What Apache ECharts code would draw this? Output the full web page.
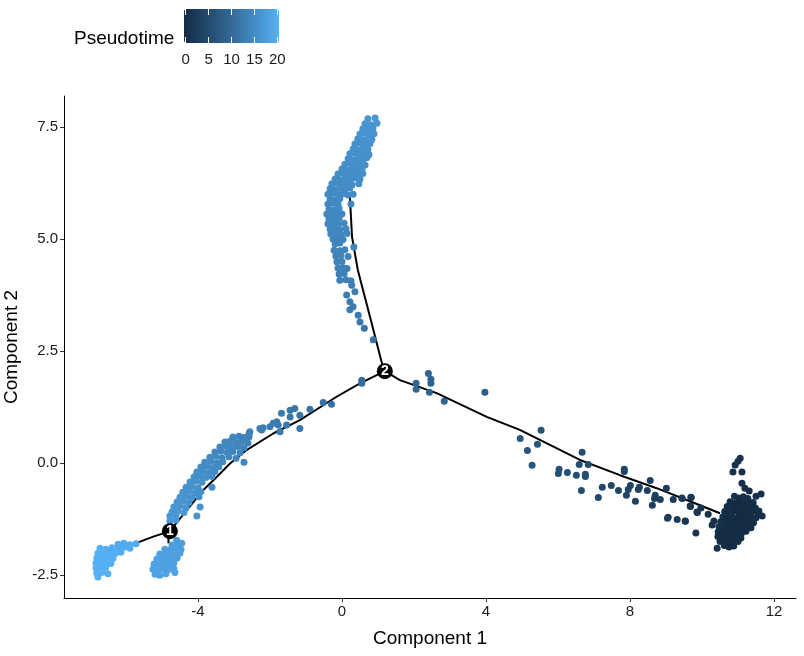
<!DOCTYPE html>
<html>
<head>
<meta charset="utf-8">
<script src="https://cdn.jsdelivr.net/npm/echarts@6/dist/echarts.min.js"></script>
<style>
  html, body { margin: 0; padding: 0; background: #fff; }
  #chart { width: 804px; height: 656px; }
</style>
</head>
<body>
<div id="chart"></div>
<script>
// cells as [component1, component2, pseudotime]
var rightBlob = [
  [10.90,-0.74,0.9],[11.02,-0.78,0.7],[11.15,-0.75,0.8],[11.27,-0.79,0.6],
  [10.78,-0.86,0.5],[10.92,-0.89,0.3],[11.05,-0.85,0.4],[11.18,-0.90,0.2],[11.30,-0.86,0.5],[11.42,-0.88,0.7],
  [10.70,-0.97,0.4],[10.83,-1.00,0.2],[10.96,-0.96,0.1],[11.09,-0.99,0.3],[11.22,-1.01,0.2],[11.35,-0.97,0.4],[11.48,-1.00,0.6],
  [10.63,-1.08,0.5],[10.76,-1.11,0.3],[10.89,-1.07,0.1],[11.02,-1.10,0.0],[11.15,-1.08,0.2],[11.28,-1.11,0.1],[11.41,-1.07,0.3],[11.55,-1.10,0.5],
  [10.58,-1.20,0.6],[10.71,-1.22,0.4],[10.84,-1.19,0.2],[10.97,-1.23,0.1],[11.10,-1.20,0.0],[11.23,-1.22,0.2],[11.36,-1.19,0.3],[11.50,-1.22,0.4],
  [10.52,-1.31,0.7],[10.65,-1.34,0.5],[10.78,-1.30,0.3],[10.91,-1.33,0.1],[11.04,-1.31,0.2],[11.17,-1.34,0.1],[11.30,-1.30,0.3],[11.43,-1.33,0.4],
  [10.47,-1.42,0.8],[10.60,-1.45,0.6],[10.73,-1.41,0.4],[10.86,-1.44,0.2],[10.99,-1.42,0.1],[11.12,-1.45,0.3],[11.25,-1.41,0.2],[11.36,-1.44,0.4],
  [10.45,-1.53,0.7],[10.58,-1.56,0.5],[10.71,-1.52,0.4],[10.84,-1.55,0.3],[10.97,-1.53,0.2],[11.10,-1.56,0.3],[11.22,-1.52,0.4],
  [10.44,-1.64,0.6],[10.57,-1.67,0.5],[10.70,-1.63,0.4],[10.83,-1.66,0.3],[10.96,-1.64,0.2],[11.08,-1.67,0.4],
  [10.50,-1.75,0.5],[10.63,-1.78,0.4],[10.76,-1.74,0.3],[10.89,-1.77,0.4],[11.00,-1.75,0.5],
  [10.62,-1.84,0.6],[10.75,-1.87,0.5],[10.88,-1.85,0.4]
];
var rightOuter = [
  [11.06,0.11,1.2],[10.92,-0.04,1.1],[10.86,-0.20,1.0],[11.11,-0.20,1.1],[11.00,0.04,1.2],
  [11.11,-0.45,0.9],[11.19,-0.56,0.8],[11.31,-0.62,0.7],[11.50,-0.74,0.9],[11.64,-0.69,1.0],
  [11.67,-1.18,0.8],[11.58,-1.07,0.7],[10.42,-1.90,0.9],
  [9.44,-0.78,1.8],[9.69,-0.76,1.6],[9.67,-0.96,1.5],[9.86,-1.09,1.4],[9.97,-1.00,1.3],
  [10.17,-1.14,1.2],[9.53,-1.29,1.7],[9.83,-1.56,1.5],[10.28,-1.38,1.1],[10.33,-1.29,1.0]
];
var rightArm = [
  [2.40,2.00,9.2],[2.06,1.78,9.4],[2.47,1.87,9.1],[2.47,1.78,9.1],[2.06,1.65,9.3],[2.43,1.58,9.0],
  [2.84,1.38,8.7],[3.97,1.58,8.0],[5.53,0.73,6.6],[4.95,0.55,7.0],[5.43,0.42,6.7],[5.15,0.28,6.9],
  [5.28,-0.05,6.8],[6.03,-0.14,6.0],[6.01,-0.23,6.0],[6.26,-0.21,5.8],[6.51,-0.27,5.5],[6.76,-0.25,5.3],
  [6.76,-0.30,5.3],[6.67,0.24,5.5],[6.59,-0.03,5.5],[6.84,-0.03,5.2],[6.65,-0.61,5.4],[7.12,-0.77,4.9],
  [7.23,-0.54,4.8],[7.48,-0.50,4.5],[7.68,-0.61,4.3],[7.84,-0.14,4.2],[7.84,-0.19,4.2],[7.90,-0.72,4.1],
  [7.95,-0.59,4.0],[8.01,-0.50,4.0],[8.15,-0.85,3.8],[8.23,-0.59,3.7],[8.26,-0.54,3.7],[8.48,-0.61,3.4],
  [8.56,-0.39,3.3],[8.62,-0.94,3.3],[8.68,-0.79,3.2],[8.70,-0.72,3.2],[8.84,-0.81,3.0],[9.01,-0.56,2.8],
  [9.04,-1.23,2.8],[9.06,-1.21,2.8],[9.20,-0.81,2.6],[9.31,-1.26,2.5],[9.45,-0.79,2.3],[9.54,-1.30,2.2],
  [9.70,-0.77,2.0],[9.68,-0.97,2.0],[9.87,-1.10,1.8]
];
var upperBranch = [
  [0.72,7.68,16.2],[0.92,7.70,16.3],
  [0.64,7.57,16.0],[0.81,7.55,16.1],[0.97,7.58,16.2],
  [0.58,7.46,15.9],[0.72,7.44,16.0],[0.86,7.47,16.0],
  [0.50,7.34,15.8],[0.64,7.36,15.9],[0.78,7.33,15.9],[0.89,7.35,16.0],
  [0.44,7.23,15.7],[0.58,7.21,15.8],[0.72,7.24,15.8],[0.83,7.22,15.9],
  [0.36,7.12,15.6],[0.50,7.14,15.6],[0.64,7.11,15.7],[0.78,7.13,15.8],
  [0.31,7.01,15.5],[0.44,6.99,15.5],[0.58,7.02,15.6],[0.72,7.00,15.7],
  [0.22,6.90,15.4],[0.36,6.92,15.4],[0.50,6.89,15.5],[0.64,6.91,15.5],[0.75,6.88,15.6],
  [0.17,6.79,15.3],[0.31,6.77,15.3],[0.44,6.80,15.4],[0.58,6.78,15.4],[0.69,6.81,15.5],
  [0.08,6.67,15.2],[0.22,6.69,15.2],[0.36,6.66,15.3],[0.50,6.68,15.3],[0.64,6.65,15.4],
  [0.00,6.56,15.1],[0.14,6.54,15.1],[0.28,6.57,15.2],[0.42,6.55,15.2],[0.56,6.58,15.3],
  [-0.11,6.45,15.0],[0.03,6.47,15.0],[0.17,6.44,15.1],[0.31,6.46,15.1],[0.44,6.43,15.2],[0.58,6.46,15.2],
  [-0.19,6.34,14.9],[-0.06,6.32,14.9],[0.08,6.35,15.0],[0.22,6.33,15.0],[0.36,6.36,15.1],[0.50,6.34,15.1],
  [-0.28,6.23,14.8],[-0.14,6.25,14.8],[0.00,6.22,14.9],[0.14,6.24,14.9],[0.28,6.21,15.0],[0.47,6.23,15.0],
  [-0.33,6.12,14.7],[-0.19,6.10,14.7],[-0.06,6.13,14.8],[0.08,6.11,14.8],[0.22,6.14,14.9],
  [-0.39,6.00,14.6],[-0.25,6.02,14.6],[-0.11,5.99,14.7],[0.03,6.01,14.7],[0.17,5.98,14.8],[0.31,6.00,14.8],
  [-0.33,5.89,14.5],[-0.19,5.87,14.5],[-0.06,5.90,14.6],
  [-0.39,5.78,14.4],[-0.25,5.80,14.4],[-0.11,5.77,14.5],[0.25,5.78,14.3],
  [-0.36,5.67,14.3],[-0.22,5.65,14.4],[-0.08,5.68,14.4],
  [-0.42,5.56,14.2],[-0.28,5.57,14.3],[-0.14,5.55,14.3],[0.00,5.56,14.3],
  [-0.36,5.45,14.2],[-0.22,5.43,14.2],[-0.08,5.46,14.2],
  [-0.39,5.34,14.1],[-0.25,5.36,14.1],[-0.11,5.33,14.2],[0.06,5.35,14.2],
  [-0.33,5.22,14.0],[-0.19,5.24,14.0],[-0.06,5.21,14.1],[0.11,5.23,14.1],
  [-0.31,5.11,13.9],[-0.17,5.13,14.0],[-0.03,5.10,14.0],[0.14,5.12,14.0],
  [-0.25,5.00,13.9],[-0.11,5.02,13.9],[0.03,4.99,13.9],
  [-0.19,4.89,13.8],[-0.06,4.91,13.8],[0.33,4.82,13.6],
  [-0.22,4.75,13.7],[-0.06,4.74,13.7],[0.08,4.76,13.7],
  [-0.17,4.62,13.6],[-0.03,4.63,13.6],[0.17,4.61,13.5],
  [-0.14,4.49,13.5],[0.00,4.50,13.5],
  [-0.11,4.35,13.4],[0.03,4.36,13.4],[0.14,4.34,13.3],
  [-0.08,4.22,13.3],[0.06,4.23,13.3],
  [-0.06,4.08,13.2],[0.11,4.09,13.2],[0.25,4.07,13.1],
  [0.27,3.97,13.0],[0.36,3.82,12.8],[0.13,3.75,12.8],[0.22,3.60,12.6],[0.31,3.49,12.5],
  [0.22,3.42,12.4],[0.45,3.30,12.2],[0.50,3.15,12.0],[0.62,3.01,11.8],[0.87,2.75,11.4]
];
var leftArm = [
  [0.55,1.85,10.0],[0.55,1.78,10.0],[-0.29,1.31,10.8],[-0.52,1.35,11.0],[-0.89,1.20,11.4],
  [-1.17,1.07,11.7],[-1.17,0.77,11.8],[-1.31,1.22,11.8],[-1.44,1.03,12.0],[-1.44,1.18,12.0],
  [-1.54,0.85,12.2],[-1.68,1.11,12.3],[-1.72,0.70,12.4],[-1.77,0.85,12.4],[-1.81,0.92,12.5],
  [-1.91,0.89,12.6],[-2.00,0.81,12.7],[-2.19,0.79,12.9],[-2.23,0.74,12.9],[-2.28,0.77,13.0],
  [-2.56,0.70,13.3],[-2.58,0.66,13.3],
  [-3.03,0.58,13.8],[-2.86,0.60,13.6],[-2.72,0.57,13.5],[-2.58,0.59,13.4],
  [-3.25,0.47,14.0],[-3.11,0.49,13.9],[-2.94,0.46,13.8],[-2.78,0.48,13.7],[-2.61,0.45,13.6],
  [-3.39,0.36,14.2],[-3.22,0.38,14.1],[-3.06,0.35,14.0],[-2.89,0.37,13.9],[-2.72,0.34,13.8],
  [-3.53,0.25,14.4],[-3.36,0.27,14.3],[-3.19,0.24,14.2],[-3.03,0.26,14.1],[-2.83,0.23,14.0],
  [-3.67,0.13,14.6],[-3.50,0.15,14.5],[-3.33,0.12,14.4],[-3.14,0.14,14.3],[-2.94,0.11,14.2],
  [-3.81,0.02,14.8],[-3.64,0.04,14.7],[-3.47,0.01,14.6],[-3.31,0.03,14.5],[-2.72,0.02,14.2],
  [-3.92,-0.09,15.0],[-3.75,-0.07,14.9],[-3.58,-0.10,14.8],[-3.42,-0.08,14.7],
  [-4.03,-0.20,15.2],[-3.86,-0.18,15.1],[-3.69,-0.21,15.0],[-3.53,-0.19,14.9],
  [-4.11,-0.31,15.3],[-3.94,-0.29,15.2],[-3.78,-0.32,15.1],[-3.61,-0.30,15.0],
  [-4.22,-0.42,15.5],[-4.06,-0.40,15.4],[-3.89,-0.43,15.3],
  [-4.33,-0.54,15.7],[-4.17,-0.52,15.6],[-4.00,-0.55,15.5],[-3.61,-0.54,15.2],
  [-4.42,-0.65,15.8],[-4.25,-0.63,15.7],[-4.08,-0.66,15.6],[-3.92,-0.64,15.5],
  [-4.50,-0.76,16.0],[-4.33,-0.74,15.9],[-4.17,-0.77,15.8],[-3.97,-0.75,15.6],
  [-4.58,-0.87,16.1],[-4.42,-0.85,16.0],[-4.25,-0.88,15.9],
  [-4.67,-0.98,16.3],[-4.50,-0.96,16.2],[-4.33,-0.99,16.1],[-3.94,-0.98,15.8],
  [-4.72,-1.09,16.4],[-4.56,-1.07,16.3],[-4.39,-1.10,16.2],
  [-4.78,-1.18,16.5],[-4.61,-1.16,16.4],[-4.03,-1.18,16.0],
  [-4.78,-1.29,16.6],[-4.61,-1.27,16.5]
];
var lowerMid = [
  [-4.72,-1.83,17.4],[-4.56,-1.81,17.4],[-4.59,-1.72,17.2],[-4.45,-1.79,17.3],
  [-4.92,-1.92,17.6],[-4.78,-1.94,17.5],[-4.61,-1.91,17.5],[-4.47,-1.93,17.4],
  [-5.06,-2.03,17.8],[-4.92,-2.05,17.7],[-4.78,-2.02,17.7],[-4.64,-2.04,17.6],[-4.50,-2.01,17.5],
  [-5.14,-2.14,17.9],[-5.00,-2.16,17.8],[-4.86,-2.13,17.8],[-4.72,-2.15,17.7],[-4.58,-2.12,17.6],
  [-5.22,-2.25,18.0],[-5.08,-2.27,17.9],[-4.94,-2.24,17.9],[-4.81,-2.26,17.8],[-4.67,-2.23,17.7],
  [-5.25,-2.37,18.1],[-5.11,-2.39,18.0],[-4.97,-2.36,17.9],[-4.83,-2.38,17.9],[-4.67,-2.35,17.8],[-4.64,-2.44,17.8],
  [-5.19,-2.48,18.1],[-5.06,-2.50,18.0],[-4.89,-2.47,18.0]
];
var lowerLeft = [
  [-6.22,-1.81,19.3],[-6.06,-1.79,19.2],[-5.89,-1.82,19.1],[-5.72,-1.80,19.0],
  [-6.72,-1.90,19.7],[-6.56,-1.92,19.6],[-6.39,-1.89,19.5],[-6.22,-1.91,19.4],[-6.06,-1.88,19.3],[-5.89,-1.90,19.2],
  [-6.78,-2.01,19.8],[-6.64,-2.03,19.7],[-6.47,-2.00,19.6],[-6.31,-2.02,19.5],[-6.14,-1.99,19.4],
  [-6.81,-2.12,19.9],[-6.67,-2.14,19.8],[-6.53,-2.11,19.7],[-6.36,-2.13,19.6],
  [-6.83,-2.23,19.9],[-6.69,-2.25,19.9],[-6.56,-2.22,19.8],[-6.42,-2.24,19.7],
  [-6.83,-2.34,20.0],[-6.69,-2.36,19.9],[-6.56,-2.33,19.9],
  [-6.81,-2.46,20.0],[-6.67,-2.44,20.0],[-6.50,-2.47,19.9],[-6.78,-2.54,20.0]
];

// trajectory backbone (principal graph)
var pathRight = [[1.19,2.05],[1.61,1.85],[2.63,1.56],[4.02,1.03],[4.94,0.74],[6.61,0.07],[7.72,-0.27],[8.74,-0.56],[9.94,-0.94],[10.50,-1.12]];
var pathLeft = [[1.19,2.05],[0.50,1.78],[-0.15,1.48],[-1.17,0.96],[-1.91,0.66],[-2.65,0.29],[-3.11,-0.01],[-3.48,-0.31],[-3.85,-0.60],[-4.31,-1.05],[-4.78,-1.52],[-5.24,-1.64],[-5.70,-1.78]];
var pathUp = [[1.19,2.05],[1.11,2.23],[0.78,3.26],[0.44,4.31],[0.28,5.04],[0.22,5.94]];
var pathStub = [[-4.82,-1.53],[-4.82,-1.79]];
var branchPoints = [[1.19,2.05,'2'],[-4.78,-1.52,'1']];

var xTicks = [-4, 0, 4, 8, 12];
var yTicks = [-2.5, 0, 2.5, 5, 7.5];
var legendTicks = [0, 5, 10, 15, 20];
var gradient = ['#132B43', '#234A6D', '#336A98', '#448DC7', '#56B1F7'];

var cells = [].concat(rightBlob, rightOuter, rightArm, upperBranch, leftArm, lowerMid, lowerLeft);
var font = 'Liberation Sans, Arial, sans-serif';

function pathSeries(d) {
  return {
    type: 'line', data: d, xAxisIndex: 0, yAxisIndex: 0,
    showSymbol: false, symbol: 'none', silent: true, z: 1,
    lineStyle: { color: '#000', width: 2 }
  };
}

var chart = echarts.init(document.getElementById('chart'));
var option = {
  animation: false,
  backgroundColor: '#fff',
  textStyle: { fontFamily: font },
  title: {
    text: 'Pseudotime', left: 74, top: 29, padding: 0,
    textStyle: { fontFamily: font, fontSize: 19, fontWeight: 'normal', color: '#000' }
  },
  grid: [
    { left: 64, right: 8, top: 96, bottom: 58, containLabel: false, outerBoundsMode: 'none' },
    { left: 185.7, top: 9, width: 91.6, height: 34, containLabel: false, outerBoundsMode: 'none' }
  ],
  visualMap: {
    type: 'continuous', min: 0, max: 20, dimension: 2, seriesIndex: 0,
    orient: 'horizontal', left: 184, top: 9, padding: 0,
    itemWidth: 34, itemHeight: 95, calculable: false, text: null,
    hoverLink: false,
    inRange: { color: gradient }
  },
  xAxis: [
    {
      gridIndex: 0, type: 'value', min: -7.72, max: 12.61,
      splitLine: { show: false },
      axisLine: { onZero: false, lineStyle: { color: '#000', width: 1 } },
      axisTick: { length: 4, lineStyle: { color: '#333' }, customValues: xTicks },
      axisLabel: { customValues: xTicks, color: '#1a1a1a', fontSize: 15, margin: 6, fontFamily: font },
      name: 'Component 1', nameLocation: 'middle', nameGap: 31,
      nameTextStyle: { fontSize: 19, color: '#000', fontFamily: font }
    },
    {
      gridIndex: 1, type: 'value', min: 0, max: 20, interval: 5, position: 'bottom', z: 10,
      splitLine: { show: false }, axisLine: { show: false, onZero: false },
      axisTick: { inside: true, length: 6, lineStyle: { color: '#fff', width: 1 } },
      axisLabel: { color: '#1a1a1a', fontSize: 15, margin: 9, fontFamily: font }
    },
    {
      gridIndex: 1, type: 'value', min: 0, max: 20, interval: 5, position: 'top', z: 10,
      splitLine: { show: false }, axisLine: { show: false, onZero: false },
      axisTick: { inside: true, length: 6, lineStyle: { color: '#fff', width: 1 } },
      axisLabel: { show: false }
    }
  ],
  yAxis: [
    {
      gridIndex: 0, type: 'value', min: -3.01, max: 8.19,
      splitLine: { show: false },
      axisLine: { onZero: false, lineStyle: { color: '#000', width: 1 } },
      axisTick: { length: 4, lineStyle: { color: '#333' }, customValues: yTicks },
      axisLabel: {
        customValues: yTicks, color: '#1a1a1a', fontSize: 15, margin: 6, fontFamily: font,
        formatter: function (v) { return v.toFixed(1); }
      },
      name: 'Component 2', nameLocation: 'middle', nameGap: 37, nameRotate: 90,
      nameTextStyle: { fontSize: 19, color: '#000', fontFamily: font }
    },
    { gridIndex: 1, type: 'value', min: 0, max: 1, show: false }
  ],
  series: [
    {
      type: 'scatter', data: cells, xAxisIndex: 0, yAxisIndex: 0,
      encode: { x: 0, y: 1 }, symbolSize: 7, z: 2, silent: true,
      itemStyle: { opacity: 1 }
    },
    pathSeries(pathRight),
    pathSeries(pathLeft),
    pathSeries(pathUp),
    pathSeries(pathStub),
    {
      type: 'scatter', data: branchPoints, xAxisIndex: 0, yAxisIndex: 0,
      encode: { x: 0, y: 1 }, symbolSize: 16, z: 3, silent: true,
      itemStyle: { color: '#000', opacity: 1 },
      label: {
        show: true, position: 'inside', color: '#fff', fontSize: 14, fontWeight: 'bold',
        fontFamily: font, formatter: function (p) { return p.value[2]; }
      }
    }
  ]
};
chart.setOption(option);
</script>
</body>
</html>
